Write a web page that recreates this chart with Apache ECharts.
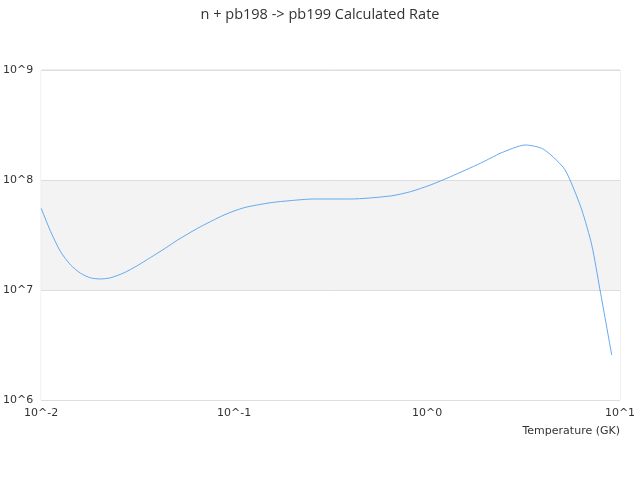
<!DOCTYPE html>
<html>
<head>
<meta charset="utf-8">
<script src="https://cdn.jsdelivr.net/npm/echarts@6/dist/echarts.min.js"></script>
<style>html,body{margin:0;padding:0;background:#fff}#c{width:640px;height:480px}</style>
</head>
<body>
<div id="c"></div>
<script>
var title = 'n + pb198 -> pb199 Calculated Rate';
var xName = 'Temperature (GK)';
var temperatures = [0.01, 0.0112, 0.0126, 0.0142, 0.016, 0.018, 0.0203, 0.0228, 0.0268, 0.0314, 0.0368, 0.044, 0.051, 0.0647, 0.0887, 0.1126, 0.155, 0.213, 0.258, 0.401, 0.646, 0.82, 1.04, 1.32, 1.89, 2.30, 2.39, 3.23, 4.0, 5.07, 5.51, 6.34, 7.14, 7.88, 9.06];
var rates = [5.53e7, 3.39e7, 2.23e7, 1.69e7, 1.42e7, 1.29e7, 1.26e7, 1.29e7, 1.43e7, 1.66e7, 1.97e7, 2.40e7, 2.85e7, 3.64e7, 4.81e7, 5.60e7, 6.22e7, 6.58e7, 6.72e7, 6.72e7, 7.16e7, 7.83e7, 9.0e7, 1.07e8, 1.42e8, 1.69e8, 1.75e8, 2.08e8, 1.91e8, 1.31e8, 1.0e8, 5.34e7, 2.56e7, 1.0e7, 2.56e6];

var data = temperatures.map(function (t, i) { return [t, rates[i]]; });
function powLabel(v) { return '10^' + Math.round(Math.log10(v)); }
var FONT = 'DejaVu Sans';

var chart = echarts.init(document.getElementById('c'));
chart.setOption({
  animation: false,
  textStyle: { fontFamily: FONT },
  title: { text: title, left: 'center', top: 2, textStyle: { fontSize: 14.5, fontWeight: 'normal', color: '#333', fontFamily: 'Open Sans' } },
  grid: { left: 40, right: 20, top: 70, bottom: 80, show: true, borderColor: '#ddd', borderWidth: 1 },
  xAxis: {
    type: 'log', min: 0.01, max: 10, logBase: 10,
    name: xName, nameLocation: 'end', nameGap: 0,
    nameTextStyle: { align: 'right', verticalAlign: 'top', padding: [26, 0, 0, 0], color: '#333', fontSize: 11, fontFamily: FONT },
    axisLine: { show: false }, axisTick: { show: false },
    splitLine: { show: false },
    axisLabel: { formatter: powLabel, color: '#333', fontSize: 11, fontFamily: FONT }
  },
  yAxis: {
    type: 'log', min: 1e6, max: 1e9, logBase: 10,
    axisLine: { show: false }, axisTick: { show: false },
    splitLine: { show: true, lineStyle: { color: '#ddd' } },
    splitArea: { show: true, areaStyle: { color: ['#f3f3f3', '#ffffff'] } },
    axisLabel: { formatter: powLabel, color: '#333', fontSize: 11, fontFamily: FONT }
  },
  series: [{
    type: 'line', data: data, showSymbol: false, smooth: 0.25,
    lineStyle: { color: '#64aaf0', width: 1 }, itemStyle: { color: '#64aaf0' }
  }]
});
</script>
</body>
</html>
